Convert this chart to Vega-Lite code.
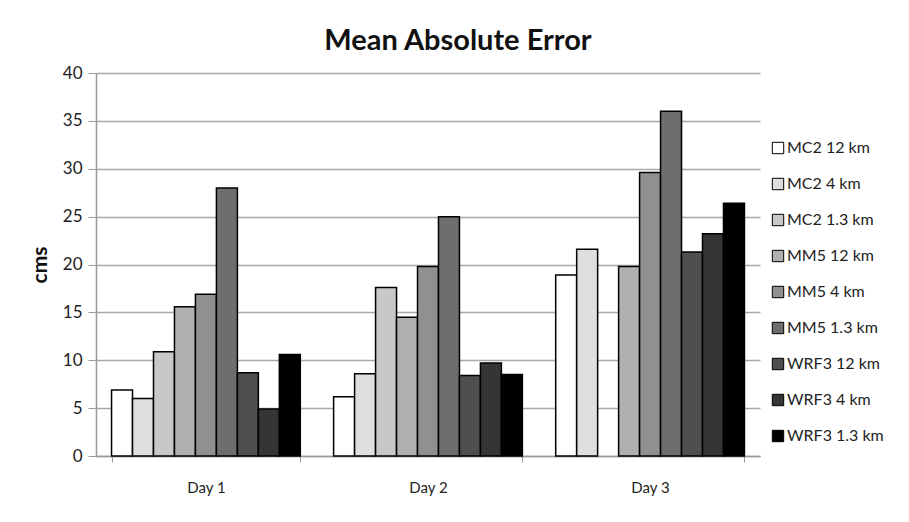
{
  "$schema": "https://vega.github.io/schema/vega-lite/v6.json",
  "width": 664,
  "height": 383,
  "autosize": {"type": "none"},
  "padding": {"left": 96, "top": 73, "right": 149, "bottom": 66},
  "background": "white",
  "title": {
    "text": "Mean Absolute Error",
    "font": "Lato",
    "fontSize": 29,
    "fontWeight": "bold",
    "color": "#111111",
    "anchor": "middle",
    "dx": 30,
    "offset": 8
  },
  "config": {
    "view": {"stroke": null},
    "font": "Lato"
  },
  "data": {
    "values": [
      {"day": "Day 1", "model": "MC2 12 km", "mae": 6.9},
      {"day": "Day 1", "model": "MC2 4 km", "mae": 6.0},
      {"day": "Day 1", "model": "MC2 1.3 km", "mae": 10.9},
      {"day": "Day 1", "model": "MM5 12 km", "mae": 15.6},
      {"day": "Day 1", "model": "MM5 4 km", "mae": 16.9},
      {"day": "Day 1", "model": "MM5 1.3 km", "mae": 28.0},
      {"day": "Day 1", "model": "WRF3 12 km", "mae": 8.7},
      {"day": "Day 1", "model": "WRF3 4 km", "mae": 4.9},
      {"day": "Day 1", "model": "WRF3 1.3 km", "mae": 10.6},
      {"day": "Day 2", "model": "MC2 12 km", "mae": 6.2},
      {"day": "Day 2", "model": "MC2 4 km", "mae": 8.6},
      {"day": "Day 2", "model": "MC2 1.3 km", "mae": 17.6},
      {"day": "Day 2", "model": "MM5 12 km", "mae": 14.5},
      {"day": "Day 2", "model": "MM5 4 km", "mae": 19.8},
      {"day": "Day 2", "model": "MM5 1.3 km", "mae": 25.0},
      {"day": "Day 2", "model": "WRF3 12 km", "mae": 8.4},
      {"day": "Day 2", "model": "WRF3 4 km", "mae": 9.7},
      {"day": "Day 2", "model": "WRF3 1.3 km", "mae": 8.5},
      {"day": "Day 3", "model": "MC2 12 km", "mae": 18.9},
      {"day": "Day 3", "model": "MC2 4 km", "mae": 21.6},
      {"day": "Day 3", "model": "MM5 12 km", "mae": 19.8},
      {"day": "Day 3", "model": "MM5 4 km", "mae": 29.6},
      {"day": "Day 3", "model": "MM5 1.3 km", "mae": 36.0},
      {"day": "Day 3", "model": "WRF3 12 km", "mae": 21.3},
      {"day": "Day 3", "model": "WRF3 4 km", "mae": 23.2},
      {"day": "Day 3", "model": "WRF3 1.3 km", "mae": 26.4}
    ]
  },
  "mark": {"type": "bar", "stroke": "#000000", "strokeWidth": 1.5},
  "encoding": {
    "x": {
      "field": "day",
      "type": "nominal",
      "scale": {"paddingInner": 0.15, "paddingOuter": 0.07},
      "axis": {
        "title": null,
        "labelAngle": 0,
        "labelFontSize": 15,
        "labelColor": "#222222",
        "labelPadding": 18,
        "domainColor": "#9a9a9a",
        "domainWidth": 1.5,
        "ticks": true,
        "tickBand": "extent",
        "tickColor": "#9a9a9a",
        "tickSize": 6,
        "grid": false
      }
    },
    "xOffset": {
      "field": "model",
      "type": "nominal",
      "scale": {
        "domain": ["MC2 12 km", "MC2 4 km", "MC2 1.3 km", "MM5 12 km", "MM5 4 km", "MM5 1.3 km", "WRF3 12 km", "WRF3 4 km", "WRF3 1.3 km"],
        "paddingInner": 0,
        "paddingOuter": 0
      }
    },
    "y": {
      "field": "mae",
      "type": "quantitative",
      "scale": {"domain": [0, 40]},
      "axis": {
        "title": "cms",
        "titleFontSize": 21,
        "titleFontWeight": "bold",
        "titleColor": "#111111",
        "titlePadding": 12,
        "values": [0, 5, 10, 15, 20, 25, 30, 35, 40],
        "labelFontSize": 17,
        "labelColor": "#222222",
        "labelPadding": 6,
        "tickSize": 8,
        "tickColor": "#9a9a9a",
        "domainColor": "#9a9a9a",
        "domainWidth": 1.5,
        "grid": true,
        "gridColor": "#a8a8a8",
        "gridWidth": 1.5
      }
    },
    "fill": {
      "field": "model",
      "type": "nominal",
      "scale": {
        "domain": ["MC2 12 km", "MC2 4 km", "MC2 1.3 km", "MM5 12 km", "MM5 4 km", "MM5 1.3 km", "WRF3 12 km", "WRF3 4 km", "WRF3 1.3 km"],
        "range": ["#ffffff", "#dedede", "#c8c8c8", "#b0b0b0", "#909090", "#6e6e6e", "#4f4f4f", "#353535", "#000000"]
      },
      "legend": {
        "title": null,
        "orient": "none",
        "legendX": 674,
        "legendY": 67,
        "symbolType": "square",
        "symbolSize": 130,
        "symbolStrokeColor": "#000000",
        "symbolStrokeWidth": 1,
        "labelFontSize": 16,
        "labelColor": "#222222",
        "labelOffset": 1,
        "rowPadding": 20,
        "labelLimit": 200
      }
    }
  }
}
